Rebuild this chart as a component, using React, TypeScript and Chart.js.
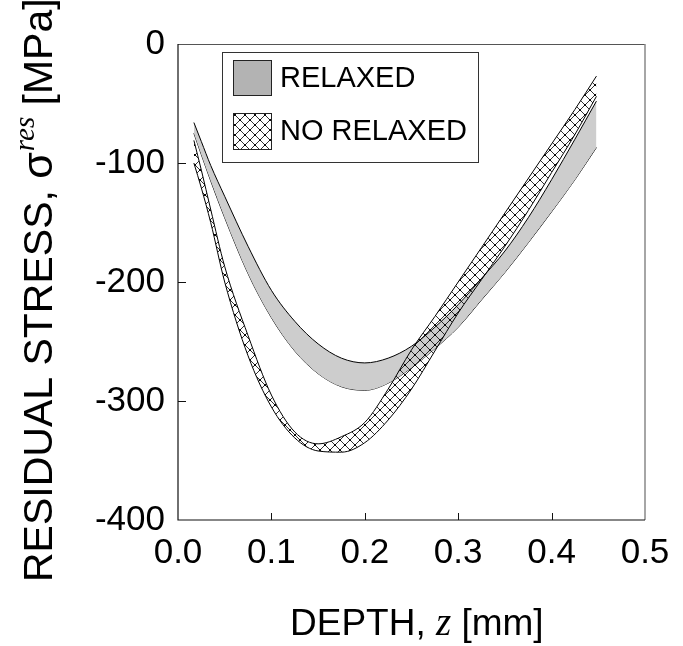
import React, { useEffect, useRef } from 'react';
import { Chart, registerables } from 'chart.js';

Chart.register(...registerables);

// ---- data ----
const depth = [0.017, 0.025, 0.035, 0.05, 0.075, 0.1, 0.125, 0.15, 0.175, 0.2, 0.225, 0.25, 0.275, 0.3, 0.325, 0.35, 0.375, 0.4, 0.425, 0.448];
const relaxedUpper = [-66, -82, -102, -128, -170, -207, -233, -252, -264, -268, -264, -254, -238, -219, -197, -174, -146, -114, -80, -48];
const relaxedLower = [-75, -93, -115, -146, -193, -230, -258, -277, -288, -291, -285, -272, -256, -238, -215, -192, -167, -141, -114, -87];
const noRelaxedUpper = [-81, -106, -139, -187, -245, -295, -326, -336, -330, -318, -290, -257, -229, -200, -171, -142, -113, -84, -55, -27];
const noRelaxedLower = [-100, -121, -150, -200, -262, -305, -331, -342, -343, -335, -316, -290, -258, -226, -198, -170, -140, -108, -76, -44];

const xTickLabels = ['0.0', '0.1', '0.2', '0.3', '0.4', '0.5'];
const yTickLabels = ['-400', '-300', '-200', '-100', '0'];
const xInnerTicks = [0.1, 0.2, 0.3, 0.4];
const yInnerTicks = [-100, -200, -300];
const legendLabels = ['RELAXED', 'NO RELAXED'];

const SANS = '"Liberation Sans", Arial, Helvetica, sans-serif';
const SERIF = '"Liberation Serif", "Times New Roman", serif';

function makeHatch(): CanvasPattern {
  const T = 10;
  const c = document.createElement('canvas');
  c.width = T;
  c.height = T;
  const g = c.getContext('2d')!;
  g.strokeStyle = '#000';
  g.lineWidth = 0.8;
  g.beginPath();
  g.moveTo(-1, -1);
  g.lineTo(T + 1, T + 1);
  g.moveTo(T + 1, -1);
  g.lineTo(-1, T + 1);
  g.stroke();
  g.fillStyle = '#000';
  const pts = [[0, 0], [T, 0], [0, T], [T, T], [T / 2, T / 2]];
  for (const [px, py] of pts) {
    g.beginPath();
    g.arc(px, py, 1.1, 0, Math.PI * 2);
    g.fill();
  }
  return g.createPattern(c, 'repeat')!;
}

export default function App() {
  const ref = useRef<HTMLCanvasElement | null>(null);

  useEffect(() => {
    document.body.style.margin = '0';
    document.body.style.overflow = 'hidden';
    const canvas = ref.current!;
    const hatch = makeHatch();

    const pts = (ys: number[]) => depth.map((x, i) => ({ x, y: ys[i] }));

    const decorPlugin = {
      id: 'decor',
      afterDraw(chart: any) {
        const ctx = chart.ctx as CanvasRenderingContext2D;
        const { left, right, top, bottom } = chart.chartArea;
        const xs = chart.scales.x;
        const ys = chart.scales.y;
        ctx.save();
        // frame
        ctx.lineWidth = 1;
        ctx.strokeStyle = '#555';
        ctx.beginPath();
        ctx.moveTo(left, top + 0.5);
        ctx.lineTo(right, top + 0.5);
        ctx.stroke();
        ctx.strokeStyle = '#888';
        ctx.lineWidth = 1.5;
        ctx.beginPath();
        ctx.moveTo(right, top);
        ctx.lineTo(right, bottom);
        ctx.stroke();
        ctx.strokeStyle = '#111';
        ctx.lineWidth = 1.2;
        ctx.beginPath();
        ctx.moveTo(left, top);
        ctx.lineTo(left, bottom);
        ctx.lineTo(right, bottom);
        ctx.stroke();
        // inward ticks
        ctx.lineWidth = 1;
        ctx.beginPath();
        for (const v of yInnerTicks) {
          const y = Math.round(ys.getPixelForValue(v)) + 0.5;
          ctx.moveTo(left, y);
          ctx.lineTo(left + 8, y);
        }
        for (const v of xInnerTicks) {
          const x = Math.round(xs.getPixelForValue(v)) + 0.5;
          ctx.moveTo(x, bottom);
          ctx.lineTo(x, bottom - 7);
        }
        ctx.stroke();

        // legend
        const lx = 222, ly = 52, lw = 256, lh = 110;
        ctx.fillStyle = '#fff';
        ctx.fillRect(lx, ly, lw, lh);
        ctx.strokeStyle = '#333';
        ctx.lineWidth = 1;
        ctx.strokeRect(lx + 0.5, ly + 0.5, lw, lh);
        // swatch 1
        ctx.fillStyle = '#b3b3b3';
        ctx.fillRect(233, 60, 38, 35);
        ctx.strokeStyle = '#222';
        ctx.strokeRect(233.5, 60.5, 38, 35);
        // swatch 2
        ctx.fillStyle = '#fff';
        ctx.fillRect(233, 113, 38, 36);
        ctx.fillStyle = hatch;
        ctx.fillRect(233, 113, 38, 36);
        ctx.strokeRect(233.5, 113.5, 38, 36);
        ctx.fillStyle = '#000';
        ctx.font = `29px ${SANS}`;
        ctx.textBaseline = 'middle';
        ctx.textAlign = 'left';
        ctx.fillText(legendLabels[0], 280, 79);
        ctx.fillText(legendLabels[1], 280, 132);

        // x title
        ctx.textBaseline = 'alphabetic';
        let cx = 290;
        const by = 635;
        ctx.font = `37px ${SANS}`;
        ctx.fillText('DEPTH, ', cx, by);
        cx += ctx.measureText('DEPTH, ').width;
        ctx.font = `italic 39px ${SERIF}`;
        ctx.fillText('z', cx, by);
        cx += ctx.measureText('z').width;
        ctx.font = `37px ${SANS}`;
        ctx.fillText(' [mm]', cx, by);

        // y title (rotated)
        ctx.save();
        ctx.translate(52, 582);
        ctx.rotate(-Math.PI / 2);
        let tx = 0;
        ctx.font = `41px ${SANS}`;
        ctx.fillText('RESIDUAL STRESS, ', tx, 0);
        tx += ctx.measureText('RESIDUAL STRESS, ').width;
        ctx.font = `43px ${SANS}`;
        ctx.fillText('σ', tx, 0);
        tx += ctx.measureText('σ').width + 1;
        ctx.font = `italic 29px ${SERIF}`;
        ctx.fillText('res', tx, -18);
        tx += ctx.measureText('res').width;
        ctx.font = `41px ${SANS}`;
        ctx.fillText(' [MPa]', tx, 0);
        ctx.restore();

        ctx.restore();
      },
    };

    const lineBase = {
      borderColor: '#000',
      borderWidth: 1,
      pointRadius: 0,
      cubicInterpolationMode: 'monotone' as const,
    };

    const chart = new Chart(canvas, {
      type: 'line',
      data: {
        datasets: [
          { ...lineBase, label: 'NO RELAXED upper', data: pts(noRelaxedUpper), fill: '+1', backgroundColor: hatch },
          { ...lineBase, label: 'NO RELAXED lower', data: pts(noRelaxedLower), fill: false },
          { ...lineBase, label: 'RELAXED upper', data: pts(relaxedUpper), fill: '+1', backgroundColor: '#cdcdcd' },
          { ...lineBase, label: 'RELAXED lower', data: pts(relaxedLower), fill: false },
        ],
      },
      options: {
        responsive: false,
        animation: false,
        events: [],
        layout: { padding: { left: 78, right: 38, top: 44, bottom: 0 } },
        plugins: { legend: { display: false }, tooltip: { enabled: false }, title: { display: false } },
        scales: {
          x: {
            type: 'linear',
            min: 0,
            max: 0.5,
            grid: { display: false, drawTicks: false },
            border: { display: false },
            ticks: {
              stepSize: 0.1,
              padding: 12,
              color: '#000',
              font: { family: SANS, size: 35 },
              maxRotation: 0,
              callback: (_v: any, i: number) => xTickLabels[i],
            },
            afterFit: (s: any) => { s.height = 126; },
          },
          y: {
            type: 'linear',
            min: -400,
            max: 0,
            grid: { display: false, drawTicks: false },
            border: { display: false },
            ticks: {
              stepSize: 100,
              padding: 13,
              color: '#000',
              font: { family: SANS, size: 35 },
              callback: (_v: any, i: number) => yTickLabels[i],
            },
            afterFit: (s: any) => { s.width = 100; },
          },
        },
      },
      plugins: [decorPlugin],
    });
    return () => chart.destroy();
  }, []);

  return (
    <div style={{ width: 683, height: 646, background: '#fff' }}>
      <canvas ref={ref} width={683} height={646} style={{ display: 'block' }} />
    </div>
  );
}
